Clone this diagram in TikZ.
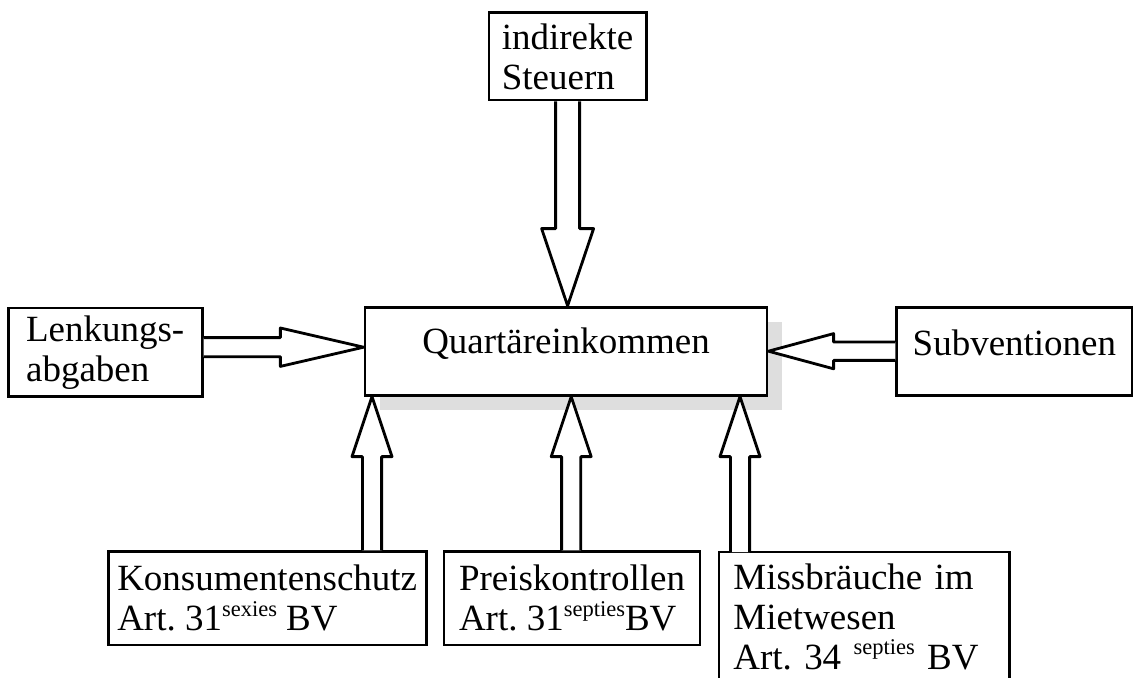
\documentclass[tikz,border=0pt]{standalone}
\usepackage{fontspec}
\setmainfont{Liberation Serif}
\usetikzlibrary{calc,shadows}

\newcommand\hoch[1]{\raisebox{0.36cm}{\fontsize{16}{16}\selectfont #1}}

\tikzset{
		box/.style={draw, line width=2pt, fill=white, inner sep=0.1cm, align=left, font=\fontsize{26.3}{28.45}\selectfont\frenchspacing},
		bshaft/.store in=\shaftw, bhead/.store in=\headw, blength/.store in=\headl,
		bshaft=0.24cm, bhead=0.5cm, blength=1.5cm,
		blockarrow/.style={line width=2pt, line join=round, fill=white, to path={
			($(\tikztotarget)!\headl!(\tikztostart)$) coordinate (hb)
			($(\tikztostart)!\shaftw!90:(\tikztotarget)$)
			-- ($(hb)!\shaftw!90:(\tikztotarget)$)
			-- ($(hb)!\headw!90:(\tikztotarget)$)
			-- (\tikztotarget)
			-- ($(hb)!\headw!-90:(\tikztotarget)$)
			-- ($(hb)!\shaftw!-90:(\tikztotarget)$)
			-- ($(\tikztostart)!\shaftw!-90:(\tikztotarget)$)}}
	}

\begin{document}
\begin{tikzpicture}

\clip (0,0) rectangle (28.325,-16.95);

\node (quart) at (14.15,-8.78) [box,minimum width=10.05cm,minimum height=2.2cm,text height=0.6cm,text depth=0.5cm,drop shadow={shadow xshift=0.375cm,shadow yshift=-0.375cm,opacity=1,fill=black!13,draw=none}] {Quartäreinkommen};

\node (steuern) at (14.19,-1.41) [box,minimum width=3.93cm,minimum height=2.18cm] {indirekte\\Steuern};
\node (lenk) at (2.63,-8.81) [box,minimum width=4.85cm,minimum height=2.22cm] {Lenkungs-\\abgaben};
\node (subv) at (25.36,-8.78) [box,minimum width=5.88cm,minimum height=2.2cm,text height=0.6cm,text depth=0.4cm] {Subventionen};

\node (konsum) at (6.68,-14.96) [box,minimum width=7.95cm,minimum height=2.33cm] {Konsumentenschutz\\Art. 31\hoch{sexies} BV};
\node (preis) at (14.3,-14.96) [box,minimum width=6.4cm,minimum height=2.33cm] {Preiskontrollen\\Art. 31\hoch{septies}BV};
\node (miss) at (17.975,-13.8) [box,draw=none,anchor=north west,inner xsep=0.325cm,inner ysep=0.25cm,text width=6.55cm] {Missbräuche im\\Mietwesen\\Art. 34 \hoch{septies} BV};
\draw [line width=2pt] ($(miss.south west)+(0,-1)$) -- (miss.north west) -- (miss.north east) -- ($(miss.south east)+(0,-1)$);

\coordinate (la) at (0,-8.68);
\coordinate (ka) at (9.3,0);
\coordinate (pa) at (14.28,0);
\coordinate (ma) at (18.5,0);

\draw [blockarrow,bshaft=0.3cm,bhead=0.65cm,blength=1.93cm] (steuern.south) to (steuern.south |- quart.north);
\draw [blockarrow,bshaft=0.24cm,bhead=0.48cm,blength=2.08cm] (la -| lenk.east) to (la -| quart.west);
\draw [blockarrow,bshaft=0.23cm,bhead=0.44cm,blength=1.63cm] (subv.west) to (quart.east |- subv.west);
\draw [blockarrow] (konsum.north -| ka) to (quart.south -| ka);
\draw [blockarrow] (preis.north -| pa) to (quart.south -| pa);
\draw [blockarrow] (miss.north -| ma) to (quart.south -| ma);

\end{tikzpicture}
\end{document}
